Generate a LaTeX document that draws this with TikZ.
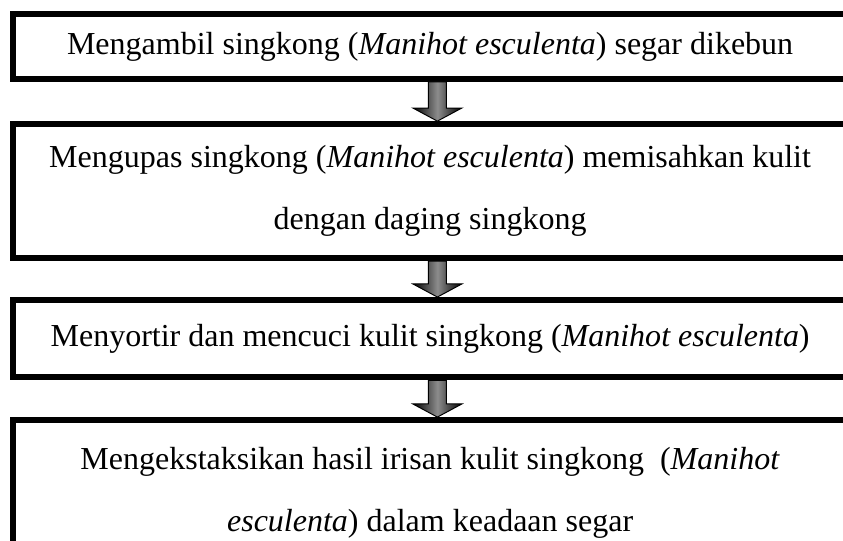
\documentclass[tikz,border=0pt]{standalone}
\usepackage{fontspec}
\setmainfont{Liberation Serif}
\usetikzlibrary{calc}
\begin{document}
\begin{tikzpicture}[
    stepbox/.style={draw, line width=2.5pt, inner sep=0pt, minimum width=12.09cm, align=center,
        font=\fontsize{13.2pt}{25.5pt}\selectfont},
    blockarrow/.style={draw=black, line width=0.4pt, left color=black, right color=black, middle color=black!45}]
    \useasboundingbox (0, 0) rectangle (12.22, -7.83);
    \clip (0, 0) rectangle (12.22, -7.83);
    \node[stepbox, minimum height=0.94cm] (b1) at (6.235, -0.674) {Mengambil singkong (\textit{Manihot esculenta}) segar dikebun};
    \node[stepbox, minimum height=1.94cm] (b2) at (6.235, -2.77) {Mengupas singkong (\textit{Manihot esculenta}) memisahkan kulit\\dengan daging singkong};
    \node[stepbox, minimum height=1.12cm] (b3) at (6.235, -4.91) {Menyortir dan mencuci kulit singkong (\textit{Manihot esculenta})};
    \node[stepbox, minimum height=2.1cm] (b4) at (6.235, -7.14) {Mengekstaksikan hasil irisan kulit singkong\ \ (\textit{Manihot}\\\textit{esculenta}) dalam keadaan segar};
    \foreach \a/\b in {b1/b2, b2/b3, b3/b4}
        \path[blockarrow] ($(\a.south)+(-0.025, 0)$) -- ($(\b.north)+(-0.025, 0.19)$) -- ($(\b.north)+(-0.25, 0.19)$)
            -- ($(\b.north)+(0.105, 0)$) -- ($(\b.north)+(0.46, 0.19)$) -- ($(\b.north)+(0.235, 0.19)$)
            -- ($(\a.south)+(0.235, 0)$) -- cycle;
\end{tikzpicture}
\end{document}
